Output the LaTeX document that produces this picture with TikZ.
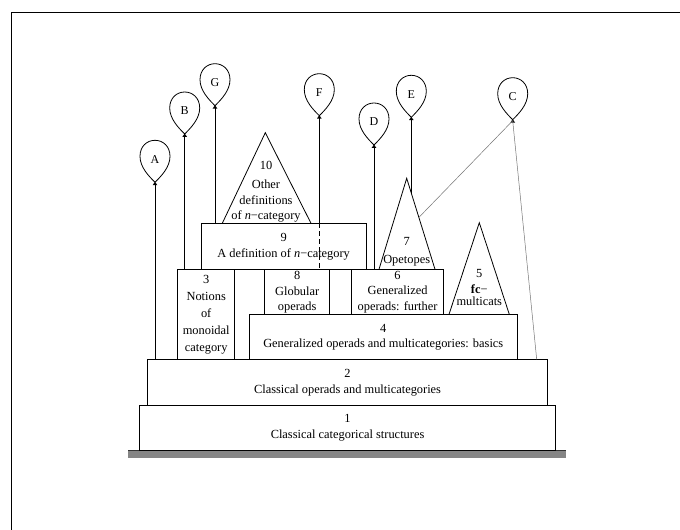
\documentclass[tikz,border=0pt]{standalone}
\usepackage{fontspec}
\setmainfont{Liberation Serif}
\usetikzlibrary{calc}
\newcommand\mkballoon[4]{%
  \begin{scope}[shift={(#2,#3)}]
    \coordinate (#1) at (0,0);
    \draw[balloonline] (0,-1) .. controls (-6,-7) and (-15,-16) .. (-15,-27)
      .. controls (-15,-37) and (-8,-43) .. (0,-43)
      .. controls (8,-43) and (15,-37) .. (15,-27)
      .. controls (15,-16) and (6,-7) .. (0,-1) -- cycle;
    \fill (0,-1.5) -- (-2.3,1.8) -- (2.3,1.8) -- cycle;
    \node[lettr] (#1l) at (0,-24) {#4};
  \end{scope}}
\begin{document}
\begin{tikzpicture}[x=1pt,y=-1pt,
  box/.style={draw, line width=0.8pt, rectangle, anchor=north west, inner sep=0pt,
    align=center, font=\fontsize{12.4}{15.5}\selectfont},
  tri/.style={draw, line width=0.8pt, line join=miter},
  tritext/.style={inner sep=0pt, align=center, font=\fontsize{12.4}{15.5}\selectfont},
  balloonline/.style={draw, line width=0.8pt},
  lettr/.style={inner sep=0pt, font=\fontsize{12}{14}\selectfont},
  stringline/.style={line width=0.7pt},
  greyline/.style={line width=0.5pt, draw=black!55}]
\useasboundingbox (0,0) rectangle (680,530);
% frame
\draw[line width=1pt] (11,530) -- (11,12) -- (680,12);
% ground
\fill[fill={rgb,255:red,133;green,133;blue,133}] (128,450) rectangle (566,457.5);
\draw[line width=0.8pt, black!80] (128,450) -- (566,450);
% boxes
\node[box, minimum width=415.7pt, minimum height=45pt] (b1) at (139.3,405) {1\\Classical categorical structures};
\node[box, minimum width=399.7pt, minimum height=45.7pt] (b2) at (147.3,359.3) {2\\Classical operads and multicategories};
\node[box, minimum width=57pt, minimum height=90pt, font=\fontsize{12.4}{16.8}\selectfont] (b3) at (177.3,269.3) {3\\Notions\\of\\monoidal\\category};
\node[box, minimum width=268.3pt, minimum height=45pt] (b4) at (248.7,314.3) {4\\Generalized operads and multicategories: basics};
\node[box, minimum width=65pt, minimum height=45pt] (b8) at (264.3,269.3) {8\\Globular\\operads};
\node[box, minimum width=91.7pt, minimum height=45pt] (b6) at (351.3,269.3) {6\\Generalized\\operads: further};
\node[box, minimum width=165pt, minimum height=46pt, font=\fontsize{12.4}{16.6}\selectfont] (b9) at (200.7,223.3) {9\\A definition of \textit{n}−category};
\draw[line width=0.8pt] (b3.north east) -- (b8.north west);
\draw[line width=0.8pt] (b8.north east) -- (b6.north west);
% triangles
\coordinate (t10a) at (265.3,132.7); \coordinate (t10l) at (222.3,223.3); \coordinate (t10r) at (311,223.3);
\coordinate (t7a) at (406.7,178.3); \coordinate (t7l) at (379,269.3); \coordinate (t7r) at (435,269.3);
\coordinate (t5a) at (479.3,222.7); \coordinate (t5l) at (449,314.3); \coordinate (t5r) at (509.3,314.3);
\draw[tri] (t10l) -- (t10a) -- (t10r);
\draw[tri] (t7l) -- (t7a) -- (t7r);
\draw[tri] (t5l) -- (t5a) -- (t5r);
\node[tritext] (x10) at (266,191.5) {10\\[4pt]Other\\definitions\\of \textit{n}−category};
\node[tritext] (x7) at (406.7,252) {7\\[3pt]Opetopes};
\node[tritext] (x5) at (479.3,287) {5\\[1pt]\textbf{fc}−\\[-4pt]multicats};
% balloons
\mkballoon{kA}{155}{183.3}{A}
\mkballoon{kB}{184.7}{135}{B}
\mkballoon{kG}{215}{106.7}{G}
\mkballoon{kF}{319.3}{116.7}{F}
\mkballoon{kD}{374}{146}{D}
\mkballoon{kE}{411.3}{118.3}{E}
\mkballoon{kC}{512.7}{120.7}{C}
% strings
\coordinate (e7) at ($(t7a)!0.1625!(t7r)$);
\coordinate (c7) at ($(t7a)!0.43!(t7r)$);
\coordinate (c2) at (536.7,359.3);
\draw[stringline] (kA) -- (kA |- b2.north);
\draw[stringline] (kB) -- (kB |- b3.north);
\draw[stringline] (kG) -- (kG |- b9.north);
\draw[stringline] (kF) -- (kF |- b9.north);
\draw[stringline, dash pattern=on 5pt off 3pt] (kF |- b9.north) -- (kF |- b8.north);
\draw[stringline] (kD) -- (kD |- b6.north);
\draw[stringline] (kE) -- (kE |- e7);
\draw[greyline] (kC) -- (c7);
\draw[greyline] (kC) -- (c2);
\end{tikzpicture}
\end{document}
